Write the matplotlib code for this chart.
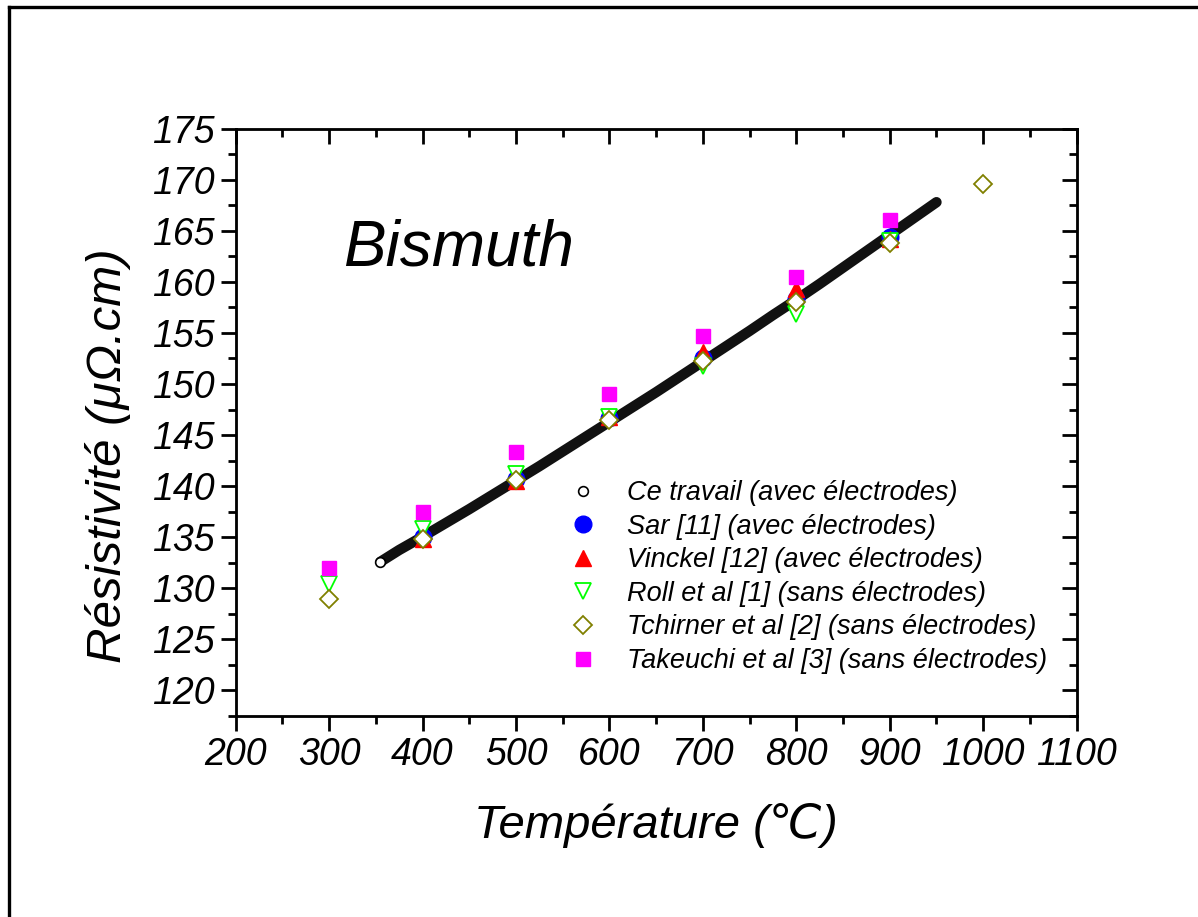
import matplotlib
matplotlib.use("Agg")
import matplotlib.pyplot as plt
from matplotlib.lines import Line2D
from matplotlib.ticker import MultipleLocator

plt.rcParams['font.family'] = ['Liberation Sans', 'DejaVu Sans']
plt.rcParams['font.style'] = 'italic'

# Ce travail (avec électrodes) - mesure continue
T_ce = [355, 375, 400, 425, 450, 475, 500, 525, 550, 575, 600, 625, 650,
        675, 700, 725, 750, 775, 800, 825, 850, 875, 900, 925, 950]
R_ce = [132.6, 133.75, 135.05, 136.4, 137.75, 139.15, 140.55, 141.95, 143.4, 144.85,
        146.3, 147.75, 149.2, 150.7, 152.2, 153.7, 155.2, 156.75, 158.25, 159.8,
        161.4, 163.0, 164.6, 166.2, 167.8]

T_sar = [400, 500, 600, 700, 800, 900]
R_sar = [135.0, 140.7, 146.7, 152.5, 158.3, 164.4]

T_vin = [400, 500, 600, 700, 800, 900]
R_vin = [134.8, 140.5, 146.8, 153.1, 159.3, 164.2]

T_roll = [300, 400, 500, 600, 700, 800, 900]
R_roll = [130.45, 135.85, 141.2, 146.8, 151.8, 156.9, 164.0]

T_tch = [300, 400, 500, 600, 700, 800, 900, 1000]
R_tch = [129.0, 134.8, 140.6, 146.45, 152.3, 158.0, 163.8, 169.6]

T_tak = [300, 400, 500, 600, 700, 800, 900]
R_tak = [132.0, 137.5, 143.3, 149.0, 154.7, 160.5, 166.1]

labels = ["Ce travail (avec électrodes)",
          "Sar [11] (avec électrodes)",
          "Vinckel [12] (avec électrodes)",
          "Roll et al [1] (sans électrodes)",
          "Tchirner et al [2] (sans électrodes)",
          "Takeuchi et al [3] (sans électrodes)"]

fig = plt.figure(figsize=(11.98, 9.17), dpi=100)
ax = fig.add_axes([0.1967, 0.2192, 0.702, 0.6405])

# courbe "ce travail" : bande épaisse de petits cercles
ax.plot(T_ce, R_ce, color='#111111', lw=7.5, solid_capstyle='round',
        solid_joinstyle='round', zorder=2)
ax.plot(T_ce[:1], R_ce[:1], 'o', mfc='white', mec='black', ms=7, mew=1.2, zorder=3)

ax.plot(T_sar, R_sar, 'o', color='#0000ff', ms=12, ls='none', zorder=4)
ax.plot(T_vin, R_vin, '^', color='#ff0000', ms=12, ls='none', zorder=5)
ax.plot(T_roll, R_roll, 'v', mfc='white', mec='#00ff00', ms=12, mew=1.3, ls='none', zorder=6)
ax.plot(T_tch, R_tch, 'D', mfc='white', mec='#808000', ms=9, mew=1.3, ls='none', zorder=7)
ax.plot(T_tak, R_tak, 's', color='#ff00ff', ms=9.5, ls='none', zorder=8)

handles = [
    Line2D([], [], marker='o', mfc='white', mec='black', ms=7, mew=1.2, ls='none'),
    Line2D([], [], marker='o', color='#0000ff', ms=12, ls='none'),
    Line2D([], [], marker='^', color='#ff0000', ms=12, ls='none'),
    Line2D([], [], marker='v', mfc='white', mec='#00ff00', ms=12, mew=1.3, ls='none'),
    Line2D([], [], marker='D', mfc='white', mec='#808000', ms=9, mew=1.3, ls='none'),
    Line2D([], [], marker='s', color='#ff00ff', ms=9.5, ls='none'),
]
ax.legend(handles, labels, loc='upper left', bbox_to_anchor=(0.376, 0.42),
          frameon=False, fontsize=19.5, handlelength=1.5, handletextpad=0.87,
          labelspacing=0.28, borderaxespad=0)

ax.text(315, 161.6, "Bismuth", fontsize=46, ha='left', va='baseline')

ax.set_xlim(200, 1100)
ax.set_ylim(117.5, 175)
ax.xaxis.set_major_locator(MultipleLocator(100))
ax.xaxis.set_minor_locator(MultipleLocator(50))
ax.yaxis.set_minor_locator(MultipleLocator(2.5))
ax.set_yticks([120, 125, 130, 135, 140, 145, 150, 155, 160, 165, 170, 175])

ax.tick_params(which='major', direction='out', length=11, width=2, labelsize=27, pad=4)
ax.tick_params(which='minor', direction='out', length=6, width=2)
for s in ax.spines.values():
    s.set_linewidth(2)

# graduations internes en haut et à droite
axr = ax.twinx()
axr.set_ylim(ax.get_ylim())
axr.yaxis.set_major_locator(MultipleLocator(5))
axr.yaxis.set_minor_locator(MultipleLocator(2.5))
axr.tick_params(which='major', direction='in', length=11, width=2, labelright=False)
axr.tick_params(which='minor', direction='in', length=6, width=2)
axt = ax.twiny()
axt.set_xlim(ax.get_xlim())
axt.xaxis.set_major_locator(MultipleLocator(100))
axt.xaxis.set_minor_locator(MultipleLocator(50))
axt.tick_params(which='major', direction='in', length=11, width=2, labeltop=False)
axt.tick_params(which='minor', direction='in', length=6, width=2)

ax.set_xlabel("Température (℃)", fontsize=34, labelpad=22)
ax.set_ylabel("Résistivité (μΩ.cm)", fontsize=35.5)
ax.yaxis.set_label_coords(-0.124, 0.444)

# cadre partiel de la figure
fig.add_artist(Line2D([0.0079, 0.0079], [0, 0.992], transform=fig.transFigure, color='k', lw=2.4))
fig.add_artist(Line2D([0.0079, 1], [0.992, 0.992], transform=fig.transFigure, color='k', lw=2.4))

fig.savefig("out.png", dpi=100)
